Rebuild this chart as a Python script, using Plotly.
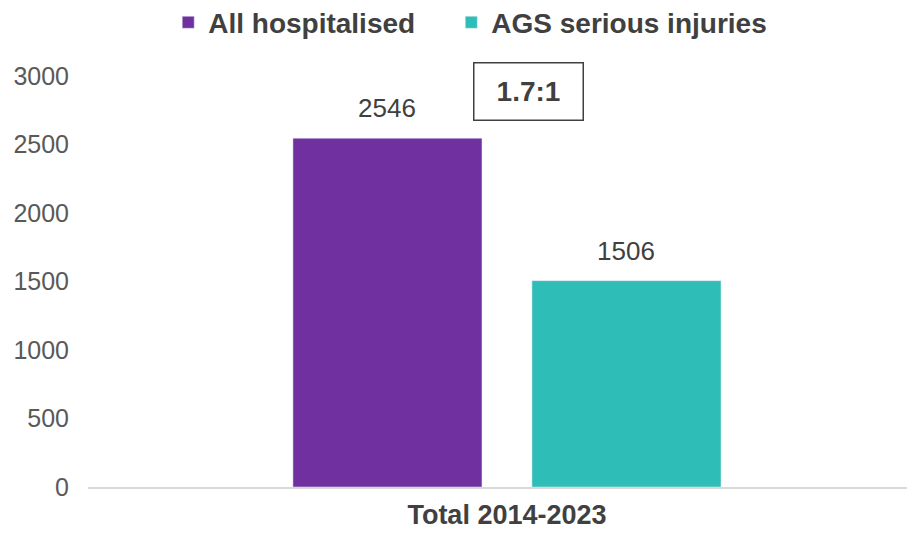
import plotly.graph_objects as go

categories = ["Total 2014-2023"]
series_names = ["All hospitalised", "AGS serious injuries"]
series_values = [[2546], [1506]]
series_colors = ["#7030A0", "#2EBDB7"]
ratio_label = "1.7:1"
y_ticks = [0, 500, 1000, 1500, 2000, 2500, 3000]

FONT = "Liberation Sans, Arial"
BARGAP = 0.422
BARGROUPGAP = 0.209
NBSP = "\u00a0"

fig = go.Figure()
n = len(series_names)
for i, (name, vals, col) in enumerate(zip(series_names, series_values, series_colors)):
    fig.add_trace(go.Bar(
        x=categories, y=vals, name="<b>" + name + "</b>" + NBSP * 4, marker_color=col,
    ))
    # value labels, placed at the centre of each grouped bar
    slot = (1 - BARGAP) / n
    for ci, v in enumerate(vals):
        fig.add_annotation(
            x=ci + (i - (n - 1) / 2) * slot, xref="x", y=v, yref="y",
            yanchor="bottom", yshift=13, showarrow=False, text=str(v),
            font=dict(size=26, color="#404040", family=FONT),
        )

fig.add_annotation(
    x=0.533, xref="paper", y=2890, yref="y",
    text="<b>" + ratio_label + "</b>", showarrow=False,
    font=dict(size=28, color="#404040", family=FONT),
    bordercolor="#404040", borderwidth=1.5, borderpad=10,
    bgcolor="white", width=88, height=36,
)

# the page body adds an 8px offset, so the figure is 8px smaller and margins shifted
fig.update_layout(
    width=907, height=525,
    margin=dict(l=80, r=0, t=68, b=46, autoexpand=False),
    paper_bgcolor="white", plot_bgcolor="white",
    barmode="group", bargap=BARGAP, bargroupgap=BARGROUPGAP,
    font=dict(family=FONT, color="#595959"),
    legend=dict(orientation="h", x=0.097, xanchor="left", y=1.130, yanchor="middle",
                font=dict(size=28, color="#404040", family=FONT),
                itemwidth=30, traceorder="normal"),
    showlegend=True,
)

fig.update_xaxes(
    type="category", range=[-0.5066, 0.4934], automargin=False,
    showline=True, linecolor="#D9D9D9", linewidth=1.5,
    showgrid=False, ticks="", ticklabelstandoff=3,
    tickfont=dict(size=27, color="#404040", family=FONT),
    tickprefix="<b>", ticksuffix="</b>",
)
fig.update_yaxes(
    range=[0, 3000], tickvals=y_ticks, showgrid=False, zeroline=False,
    automargin=False, ticklabelstandoff=18,
    tickfont=dict(size=25, color="#595959", family=FONT),
    ticks="", showline=False,
)

fig.write_html("out.html")
